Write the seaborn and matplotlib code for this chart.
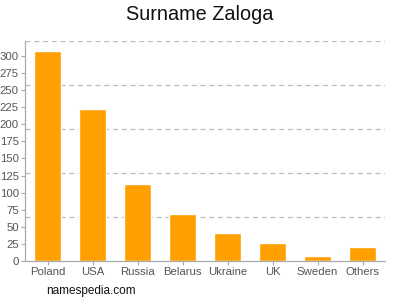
import matplotlib
matplotlib.use("Agg")
import matplotlib.pyplot as plt
import seaborn as sns
import pandas as pd
from matplotlib.ticker import MultipleLocator, LinearLocator

countries = ["Poland", "USA", "Russia", "Belarus", "Ukraine", "UK", "Sweden", "Others"]
counts = [307, 223, 113, 69, 41, 27, 8, 21]

sns.set_style("white")
plt.rcParams['font.family'] = ['Liberation Sans', 'DejaVu Sans']

df = pd.DataFrame({"country": countries, "count": counts})

fig = plt.figure(figsize=(4, 3), dpi=100)
ax = fig.add_axes([0.0625, 0.13, 0.9, 0.734])
sns.barplot(data=df, x="country", y="count", color="#FFA000", saturation=1,
            width=0.61, ax=ax)

ax.set_xlim(-0.5, len(countries) - 0.5)
ax.set_ylim(0, 322)
ax.yaxis.set_major_locator(MultipleLocator(25))
ax.yaxis.set_minor_locator(LinearLocator(6))
ax.grid(False)
ax.grid(True, which="minor", axis="y", color="#bbbbbb", linestyle=(0, (4, 3)), linewidth=0.9)
ax.set_axisbelow(True)

ax.set_xlabel("")
ax.set_ylabel("")
for s in ["top", "right"]:
    ax.spines[s].set_visible(False)
for s in ["left", "bottom"]:
    ax.spines[s].set_color("#aaaaaa")
    ax.spines[s].set_linewidth(0.9)

ax.tick_params(axis="both", which="major", labelsize=8.2, labelcolor="#555555",
               color="#aaaaaa", length=3, width=0.8, pad=1.5, left=True, bottom=True)
ax.tick_params(axis="y", which="minor", length=0)

fig.suptitle("Surname Zaloga", fontsize=14.3, y=0.985, color="#111111")
fig.text(0.116, 0.02, "namespedia.com", fontsize=8.5, color="#111111")

fig.savefig("out.png", dpi=100)
